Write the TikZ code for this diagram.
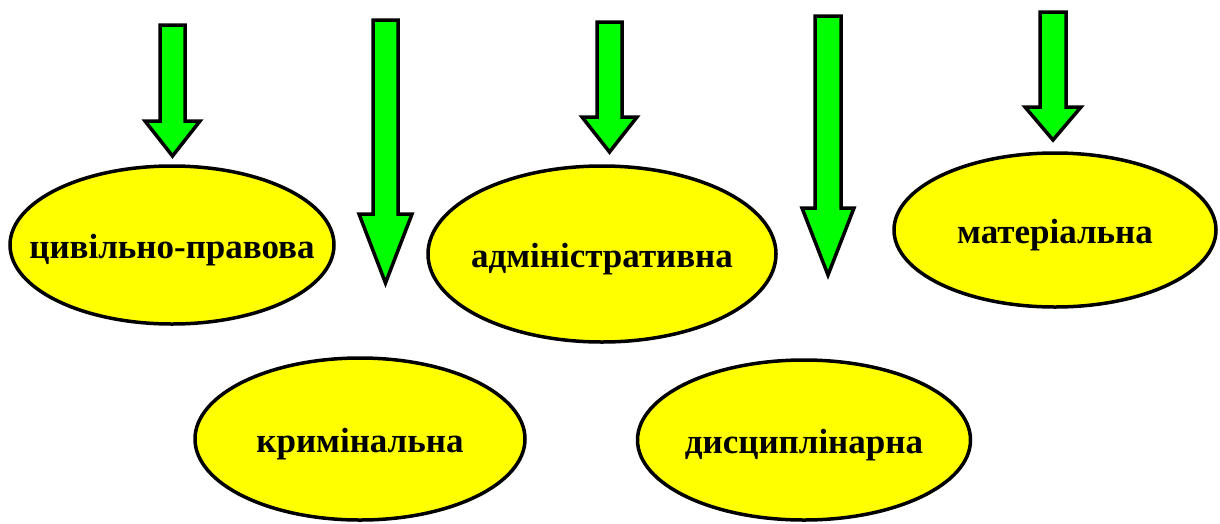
\documentclass[tikz,border=0pt]{standalone}
\usepackage{fontspec}
\setmainfont{Liberation Serif}
\usetikzlibrary{shapes.geometric}
\definecolor{ellfill}{RGB}{255,255,0}
\definecolor{arrfill}{RGB}{0,255,0}
\tikzset{
  ell/.style={ellipse, draw=black, line width=3.5pt, fill=ellfill, inner sep=0pt},
  every label/.style={font=\bfseries\fontsize{35}{40}\selectfont, inner sep=0pt, yshift=-5pt},
  blockarrow/.style={draw=black, line width=3.5pt, fill=arrfill, line join=miter}
}
\begin{document}
\begin{tikzpicture}[x=1pt,y=-1pt]
\useasboundingbox (0,0) rectangle (1220,523);
% arrows
\draw[blockarrow] (160,25) -- (185,25) -- (185,121) -- (200,121) -- (172.5,156) -- (145,121) -- (160,121) -- cycle;
\draw[blockarrow] (373,20) -- (398,20) -- (398,214) -- (412,214) -- (385.5,283) -- (359,214) -- (373,214) -- cycle;
\draw[blockarrow] (597,22) -- (622,22) -- (622,117) -- (637,117) -- (609.5,152) -- (582,117) -- (597,117) -- cycle;
\draw[blockarrow] (815,16) -- (841,16) -- (841,208) -- (854,208) -- (828,275) -- (802,208) -- (815,208) -- cycle;
\draw[blockarrow] (1040,12) -- (1066,12) -- (1066,107) -- (1081,107) -- (1053,140) -- (1025,107) -- (1040,107) -- cycle;
% ellipses
\node[ell, minimum width=324pt, minimum height=158pt, label=center:{цивільно-правова}] (civ) at (172,245) {};
\node[ell, minimum width=330pt, minimum height=162pt, label=center:{кримінальна}] (krim) at (360,439) {};
\node[ell, minimum width=348pt, minimum height=176pt, label=center:{адміністративна}] (adm) at (602,254) {};
\node[ell, minimum width=333pt, minimum height=160pt, label=center:{дисциплінарна}] (dys) at (804,440) {};
\node[ell, minimum width=322pt, minimum height=154pt, label=center:{матеріальна}] (mat) at (1055,230) {};
\end{tikzpicture}
\end{document}
